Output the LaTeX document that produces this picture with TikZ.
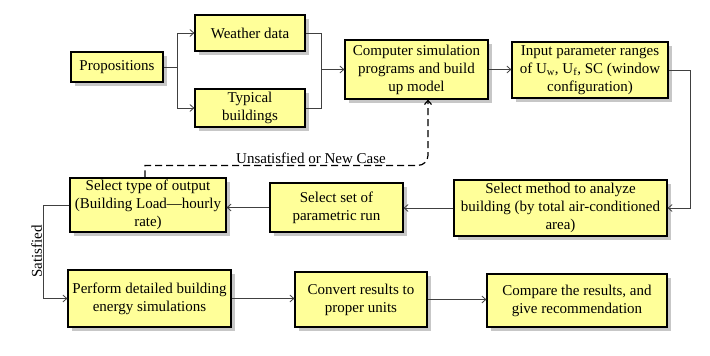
\documentclass[tikz,border=0pt]{standalone}
\usepackage{fontspec}
\setmainfont{Liberation Serif}
\usepackage{xcolor}
\usetikzlibrary{arrows.meta,shadows}
\definecolor{boxyellow}{RGB}{255,255,153}

\begin{document}
\begin{tikzpicture}[
    x=1pt, y=-1pt,
    box/.style={draw, line width=1.2pt, fill=boxyellow, align=center, inner xsep=2pt, inner ysep=0pt,
      font=\fontsize{15}{18}\selectfont,
      drop shadow={shadow xshift=4pt, shadow yshift=-4pt, fill=black!22, opacity=1}},
    link/.style={->, draw=black!75, line width=0.8pt},
    lbl/.style={font=\fontsize{15}{18}\selectfont, inner sep=1pt},
    >={Straight Barb[length=4pt,width=7pt]}
  ]
  \useasboundingbox (0,0) rectangle (710,356);
  \node[box, minimum width=92pt, minimum height=30pt] (prop) at (117,67) {Propositions};
  \node[box, minimum width=110pt, minimum height=36pt] (weather) at (250,33) {Weather data};
  \node[box, minimum width=110pt, minimum height=38pt] (typical) at (250,108) {Typical\\ buildings};
  \node[box, minimum width=143pt, minimum height=59pt] (comp) at (416.5,69.5) {Computer simulation\\ programs and build\\ up model};
  \node[box, minimum width=156pt, minimum height=56pt] (input) at (590,70) {Input parameter ranges\\ of U\textsubscript{w}, U\textsubscript{f}, SC (window\\ configuration)};
  \node[box, minimum width=213pt, minimum height=56pt] (method) at (560.5,208) {Select method to analyze\\ building (by total air-conditioned\\ area)};
  \node[box, minimum width=133pt, minimum height=49pt] (parset) at (336.5,207.5) {Select set of\\ parametric run};
  \node[box, minimum width=156pt, minimum height=54pt] (output) at (148,205) {Select type of output\\ (Building Load---hourly\\ rate)};
  \node[box, minimum width=163pt, minimum height=57pt] (perform) at (149.5,298.5) {Perform detailed building\\ energy simulations};
  \node[box, minimum width=132pt, minimum height=55pt] (convert) at (361,299.5) {Convert results to\\ proper units};
  \node[box, minimum width=180pt, minimum height=53pt] (compare) at (577,300.5) {Compare the results, and\\ give recommendation};

  \coordinate (split) at ([xshift=14pt]prop.east);
  \coordinate (merge) at ([xshift=-23pt]comp.west);
  \draw[link, -] (prop.east) -- (split);
  \draw[link] (split) |- (weather.west);
  \draw[link] (split) |- (typical.west);
  \draw[link, -] (weather.east) -| (merge);
  \draw[link, -] (typical.east) -| (merge);
  \draw[link] (merge) -- (comp.west);
  \draw[link] (comp.east) -- (comp.east -| input.west);
  \draw[link] (input.east) -- ++(22,0) |- (method.east);
  \draw[link] (method.west) -- (method.west -| parset.east);
  \draw[link] (parset.west) -- (parset.west -| output.east);
  \draw[link] (output.west) -- ++(-26,0) |- node[lbl, pos=0.25, rotate=90, above] (sat) {Satisfied} (perform.west);
  \draw[link] (perform.east) -- (perform.east -| convert.west);
  \draw[link] (convert.east) -- (convert.east -| compare.west);
  \draw[->, line width=1.2pt, dash pattern=on 7pt off 4pt] ([xshift=-3pt]output.north) -- ++(0,-12) [rounded corners=10pt] -| ([xshift=11.5pt]comp.south);
  \node[lbl, above] (unsat) at (311,165) {Unsatisfied or New Case};
\end{tikzpicture}
\end{document}
